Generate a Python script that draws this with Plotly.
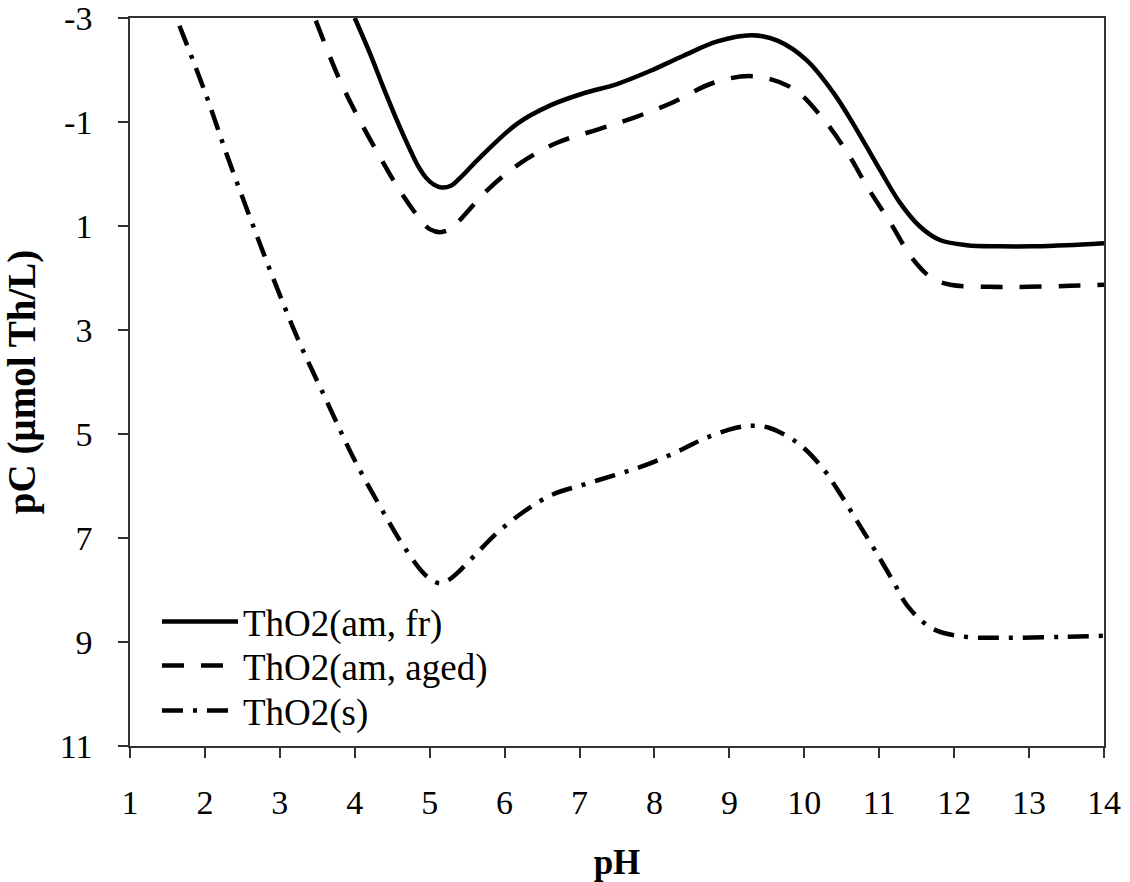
import plotly.graph_objects as go

# pH axis values and solubility (pC) for each thorium solid phase
ph_fr = [4.0, 4.2, 4.38, 4.56, 4.74, 4.85, 4.95, 5.05, 5.16, 5.29, 5.41, 5.66, 6.17,
         6.61, 7.05, 7.5, 7.94, 8.38, 8.84, 9.3, 9.65, 10.03, 10.39, 10.7, 11.01,
         11.28, 11.55, 11.81, 12.17, 12.6, 13.06, 13.5, 14.0]
pc_fr = [-3.0, -2.33, -1.67, -1.04, -0.46, -0.14, 0.07, 0.2, 0.26, 0.22, 0.07, -0.3,
         -0.97, -1.32, -1.55, -1.73, -1.98, -2.27, -2.55, -2.67, -2.56, -2.19, -1.56,
         -0.85, -0.08, 0.56, 1.02, 1.27, 1.37, 1.39, 1.39, 1.37, 1.33]

ph_aged = [3.48, 3.78, 4.03, 4.3, 4.58, 4.91, 5.0, 5.14, 5.27, 5.38, 5.77, 6.21, 6.7,
           7.23, 7.72, 8.25, 8.78, 9.32, 9.84, 10.24, 10.57, 10.85, 11.15, 11.44,
           11.7, 11.95, 12.48, 13.0, 13.55, 14.0]
pc_aged = [-2.95, -1.87, -1.13, -0.42, 0.27, 0.94, 1.06, 1.12, 1.06, 0.92, 0.31,
           -0.21, -0.6, -0.85, -1.08, -1.38, -1.75, -1.88, -1.65, -1.08, -0.42, 0.27,
           0.94, 1.62, 2.0, 2.13, 2.17, 2.17, 2.15, 2.13]

ph_s = [1.66, 2.0, 2.29, 2.6, 2.91, 3.24, 3.62, 3.99, 4.42, 4.64, 4.9, 5.02, 5.14,
        5.26, 5.37, 5.59, 5.9, 6.25, 6.63, 7.04, 7.47, 7.88, 8.29, 8.68, 9.09, 9.3,
        9.53, 9.91, 10.23, 10.47, 10.71, 10.94, 11.17, 11.39, 11.72, 12.15, 12.59,
        13.46, 14.0]
pc_s = [-2.85, -1.58, -0.38, 0.83, 2.0, 3.17, 4.35, 5.48, 6.6, 7.13, 7.65, 7.8, 7.87,
        7.8, 7.67, 7.35, 6.9, 6.5, 6.17, 5.98, 5.79, 5.6, 5.35, 5.08, 4.88, 4.84,
        4.88, 5.17, 5.63, 6.13, 6.69, 7.23, 7.79, 8.33, 8.75, 8.9, 8.92, 8.9, 8.88]

x_ticks = list(range(1, 15))
y_ticks = [-3, -1, 1, 3, 5, 7, 9, 11]
y_ticktext = ["-3", "-1", "1", "3", "5", "7", "9", "11"]

FONT = "Liberation Serif"
LW = 4.5
SMOOTH = 1.0

fig = go.Figure()
fig.add_trace(go.Scatter(x=ph_fr, y=pc_fr, mode="lines", name="ThO2(am, fr)",
                         legend="legend",
                         line=dict(color="black", width=LW, shape="spline", smoothing=SMOOTH)))
fig.add_trace(go.Scatter(x=ph_aged, y=pc_aged, mode="lines", name="ThO2(am, aged)",
                         legend="legend2",
                         line=dict(color="black", width=LW, shape="spline", smoothing=SMOOTH,
                                   dash="22px,17px")))
fig.add_trace(go.Scatter(x=ph_s, y=pc_s, mode="lines", name="ThO2(s)",
                         legend="legend3",
                         line=dict(color="black", width=LW, shape="spline", smoothing=SMOOTH,
                                   dash="21px,10px,4px,10px")))

axis_common = dict(
    showgrid=False, zeroline=False, showline=True, linecolor="#333", linewidth=1.5,
    mirror=True, ticks="outside", ticklen=10, tickwidth=1.5, tickcolor="#333",
    tickfont=dict(family=FONT, size=34, color="black"), ticklabeloverflow="allow",
    automargin=False,
)

fig.update_xaxes(range=[1, 14], tickvals=x_ticks, **axis_common, ticklabelstandoff=15,
                 title=dict(text="<b>pH</b>", font=dict(family=FONT, size=35, color="black"),
                            standoff=34))
fig.update_yaxes(range=[11, -3], tickvals=y_ticks, ticktext=y_ticktext, **axis_common,
                 ticklabelstandoff=19,
                 title=dict(text="<b>pC (µmol Th/L)</b>",
                            font=dict(family=FONT, size=39, color="black"), standoff=19))

legend_common = dict(x=0.0277, xanchor="left", yanchor="middle",
                     font=dict(family=FONT, size=37, color="black"),
                     bgcolor="rgba(0,0,0,0)", itemwidth=76)

fig.update_layout(
    width=1130, height=882,
    margin=dict(l=130, r=26, t=18, b=136),
    plot_bgcolor="white", paper_bgcolor="white",
    legend=dict(y=0.1703, **legend_common),
    legend2=dict(y=0.1099, **legend_common),
    legend3=dict(y=0.0481, **legend_common),
    showlegend=True,
)

fig.write_html("out.html")
